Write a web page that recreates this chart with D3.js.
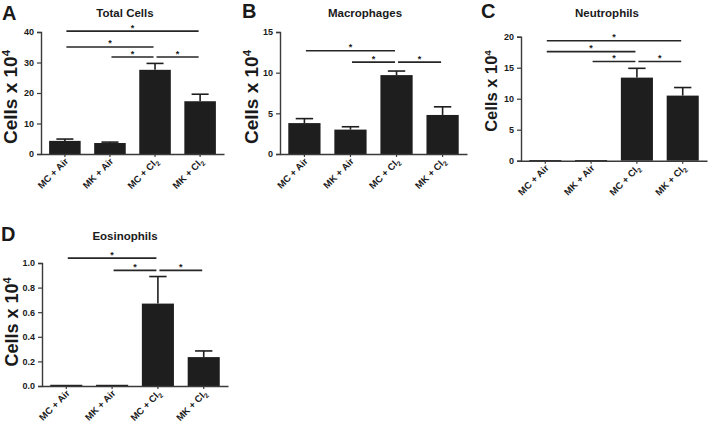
<!DOCTYPE html>
<html>
<head>
<meta charset="utf-8">
<script src="https://cdn.jsdelivr.net/npm/d3@7"></script>
<style>
  html, body { margin: 0; padding: 0; background: #fff; }
  svg { display: block; }
  text { font-family: "Liberation Sans", Arial, Helvetica, sans-serif; font-weight: bold; fill: #1a1a1a; }
</style>
</head>
<body>
<svg id="chart" width="709" height="424"></svg>
<script>
// ---------------- DATA ----------------
const categories = ["MC + Air", "MK + Air", "MC + Cl2", "MK + Cl2"];

const totalMean = [4.3, 3.6, 27.6, 17.3];
const totalSem  = [0.6, 0.3, 2.1, 2.3];
const totalTicks = [0, 10, 20, 30, 40];
const totalSig = [[0, 3, 40.3], [0, 2, 35.1], [1, 2, 31.8], [2, 3, 31.8]];

const macroMean = [3.8, 3.0, 9.7, 4.8];
const macroSem  = [0.55, 0.35, 0.5, 1.0];
const macroTicks = [0, 5, 10, 15];
const macroSig = [[0, 2, 12.7], [1, 2, 11.3], [2, 3, 11.3]];

const neutroMean = [0.1, 0.1, 13.4, 10.5];
const neutroSem  = [0, 0, 1.5, 1.3];
const neutroTicks = [0, 5, 10, 15, 20];
const neutroSig = [[0, 3, 19.35], [0, 2, 17.6], [1, 2, 16.0], [2, 3, 16.0]];

const eosMean = [0.01, 0.01, 0.67, 0.235];
const eosSem  = [0, 0, 0.22, 0.05];
const eosTicks = [0, 0.2, 0.4, 0.6, 0.8, 1.0];
const eosSig = [[0, 2, 1.04], [1, 2, 0.94], [2, 3, 0.94]];

const titles = ["Total Cells", "Macrophages", "Neutrophils", "Eosinophils"];
const letters = ["A", "B", "C", "D"];
const yLabel = "Cells x 10";
const yLabelSup = "4";

// ---------------- LAYOUT ----------------
const panels = [
  { letter: letters[0], title: titles[0], mean: totalMean, sem: totalSem, ticks: totalTicks, sig: totalSig, fmt: d => d,
    x0: 41, x1: 224, y0: 154, y1: 32, letterPos: [2, 20], titlePos: [125, 17], ylab: [17, 97], ylabSize: 19 },
  { letter: letters[1], title: titles[1], mean: macroMean, sem: macroSem, ticks: macroTicks, sig: macroSig, fmt: d => d,
    x0: 280, x1: 467, y0: 154, y1: 32, letterPos: [242, 18], titlePos: [365, 17], ylab: [258, 97], ylabSize: 19 },
  { letter: letters[2], title: titles[2], mean: neutroMean, sem: neutroSem, ticks: neutroTicks, sig: neutroSig, fmt: d => d,
    x0: 521, x1: 707, y0: 160.7, y1: 36.7, letterPos: [481, 18], titlePos: [607, 17], ylab: [497, 91], ylabSize: 16.5 },
  { letter: letters[3], title: titles[3], mean: eosMean, sem: eosSem, ticks: eosTicks, sig: eosSig, fmt: d => d.toFixed(1),
    x0: 42, x1: 228, y0: 386, y1: 263, letterPos: [1, 241], titlePos: [125, 240], ylab: [18, 322], ylabSize: 18 }
];

const svg = d3.select("#chart");
const ink = "#1e1e1e";
const axisCol = "#3a3a3a";

function addCatLabel(sel, label) {
  const m = label.match(/^(.*Cl)2$/);
  if (m) {
    sel.append("tspan").text(m[1]);
    sel.append("tspan").attr("font-size", "6.8px").attr("dy", 2.5).text("2");
  } else {
    sel.text(label);
  }
}

panels.forEach(p => {
  const g = svg.append("g");
  const x = d3.scaleBand().domain(categories).range([p.x0, p.x1]).paddingInner(0.3).paddingOuter(0.18);
  const yMax = p.ticks[p.ticks.length - 1];
  const y = d3.scaleLinear().domain([0, yMax]).range([p.y0, p.y1]);
  const bw = x.bandwidth();

  // panel letter
  g.append("text").attr("x", p.letterPos[0]).attr("y", p.letterPos[1])
    .attr("font-size", "20px").attr("fill", "#111").text(p.letter);

  // title
  g.append("text").attr("x", p.titlePos[0]).attr("y", p.titlePos[1])
    .attr("text-anchor", "middle").attr("font-size", "11.5px").text(p.title);

  // y axis label
  const yl = g.append("text")
    .attr("transform", `translate(${p.ylab[0]},${p.ylab[1]}) rotate(-90)`)
    .attr("text-anchor", "middle").attr("font-size", p.ylabSize + "px");
  yl.append("tspan").text(yLabel);
  yl.append("tspan").attr("font-size", (p.ylabSize * 0.6) + "px").attr("dy", -p.ylabSize * 0.38).text(yLabelSup);

  // bars
  g.selectAll("rect.bar").data(categories).enter().append("rect")
    .attr("x", d => x(d)).attr("width", bw)
    .attr("y", (d, i) => y(p.mean[i]))
    .attr("height", (d, i) => Math.max(1.2, y(0) - y(p.mean[i])))
    .attr("fill", ink);

  // error bars (upper only)
  categories.forEach((c, i) => {
    if (p.sem[i] <= 0) return;
    const cx = x(c) + bw / 2;
    const top = y(p.mean[i] + p.sem[i]);
    g.append("line").attr("x1", cx).attr("x2", cx).attr("y1", y(p.mean[i])).attr("y2", top)
      .attr("stroke", ink).attr("stroke-width", 1.6);
    g.append("line").attr("x1", cx - bw * 0.27).attr("x2", cx + bw * 0.27).attr("y1", top).attr("y2", top)
      .attr("stroke", ink).attr("stroke-width", 1.6);
  });

  // y axis
  const yAxis = d3.axisLeft(y).tickValues(p.ticks).tickFormat(p.fmt).tickSize(4).tickPadding(3);
  const ya = g.append("g").attr("transform", `translate(${p.x0},0)`).call(yAxis);
  ya.select(".domain").attr("stroke", axisCol).attr("stroke-width", 1.4);
  ya.selectAll(".tick line").attr("stroke", axisCol).attr("stroke-width", 1.2);
  ya.selectAll(".tick text").attr("font-size", "9px").attr("font-family", "Liberation Sans, Arial, sans-serif")
    .attr("font-weight", "bold").attr("fill", "#1a1a1a");

  // x axis
  const xAxis = d3.axisBottom(x).tickSize(3).tickSizeOuter(0).tickFormat("");
  const xa = g.append("g").attr("transform", `translate(0,${p.y0})`).call(xAxis);
  xa.select(".domain").attr("stroke", axisCol).attr("stroke-width", 1.4);
  xa.selectAll(".tick line").attr("stroke", axisCol).attr("stroke-width", 1.2);

  // x category labels rotated
  categories.forEach(c => {
    const cx = x(c) + bw / 2;
    const t = g.append("text")
      .attr("transform", `translate(${cx + 4},${p.y0 + 8}) rotate(-45)`)
      .attr("text-anchor", "end").attr("font-size", "9.5px");
    addCatLabel(t, c);
  });

  // significance lines
  p.sig.forEach(s => {
    const xa1 = x(categories[s[0]]) + bw / 2 + 1.5;
    const xb1 = x(categories[s[1]]) + bw / 2 - 1.5;
    const ly = y(s[2]);
    g.append("line").attr("x1", xa1).attr("x2", xb1).attr("y1", ly).attr("y2", ly)
      .attr("stroke", "#262626").attr("stroke-width", 1.6);
    g.append("text").attr("x", (xa1 + xb1) / 2).attr("y", ly - 0.5)
      .attr("text-anchor", "middle").attr("font-size", "9px").text("*");
  });
});
</script>
</body>
</html>
